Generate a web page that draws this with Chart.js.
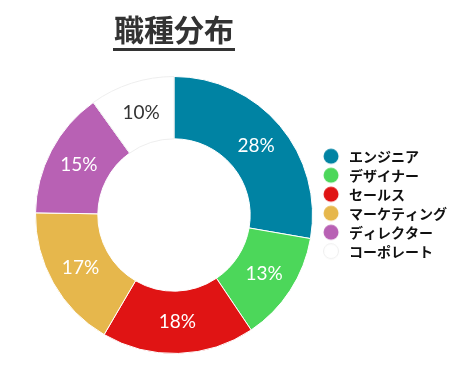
<!DOCTYPE html>
<html>
<head>
<meta charset="utf-8">
<script src="https://cdn.jsdelivr.net/npm/chart.js@4/dist/chart.umd.min.js"></script>
<style>
  html, body { margin: 0; padding: 0; background: #fff; }
  #wrap { width: 457px; height: 367px; }
</style>
</head>
<body>
<div id="wrap"><canvas id="mycanvas" width="457" height="367"></canvas></div>
<script>
var jobs = ['エンジニア', 'デザイナー', 'セールス', 'マーケティング', 'ディレクター', 'コーポレート'];
var shares = [28, 13, 18, 17, 15, 10];
var colors = ['#0083a3', '#4cd75a', '#e01414', '#e6b74c', '#b861b4', '#ffffff'];

// legend dot, drawn toward the right part of a wider box so the text sits further out
function makeDot(color) {
  var c = document.createElement('canvas');
  c.width = 24;
  c.height = 18;
  var g = c.getContext('2d');
  g.beginPath();
  g.arc(13, 9, 7.5, 0, Math.PI * 2);
  g.fillStyle = color;
  g.fill();
  if (color == '#ffffff') {
    g.strokeStyle = '#eeeeee';
    g.lineWidth = 1;
    g.stroke();
  }
  return c;
}

// percent labels in the middle of each slice
var sliceLabels = {
  id: 'sliceLabels',
  afterDatasetsDraw: function(chart) {
    var ctx = chart.ctx;
    var meta = chart.getDatasetMeta(0);
    ctx.save();
    ctx.font = '19px Lato';
    ctx.textAlign = 'center';
    ctx.textBaseline = 'middle';
    meta.data.forEach(function(arc, i) {
      var p = arc.tooltipPosition();
      ctx.fillStyle = colors[i] == '#ffffff' ? '#333' : '#fff';
      ctx.fillText(shares[i] + '%', p.x, p.y);
    });
    ctx.restore();
  }
};

// underline under the title
var titleLine = {
  id: 'titleLine',
  afterDraw: function(chart) {
    var t = chart.titleBlock;
    if (!t) return;
    var ctx = chart.ctx;
    ctx.save();
    ctx.font = 'bold 30px "Noto Sans CJK JP"';
    var w = ctx.measureText(chart.options.plugins.title.text).width;
    var cx = (t.left + t.right) / 2 - 1;
    ctx.fillStyle = '#333';
    ctx.fillRect(cx - w / 2, 48, w + 2, 3);
    ctx.restore();
  }
};

var ctx = document.getElementById('mycanvas');
var pie = new Chart(ctx, {
  type: 'doughnut',
  data: {
    labels: jobs,
    datasets: [{
      data: shares,
      backgroundColor: colors,
      borderColor: ['#fff', '#fff', '#fff', '#fff', '#fff', '#eeeeee'],
      borderWidth: 1
    }]
  },
  options: {
    responsive: false,
    animation: false,
    cutout: '55%',
    layout: { padding: { left: 35, top: 0, bottom: 12, right: 0 } },
    plugins: {
      title: {
        display: true,
        text: '職種分布',
        fullSize: false,
        color: '#333',
        font: { family: '"Noto Sans CJK JP"', size: 30, weight: 'bold' },
        padding: { top: 12, bottom: 27 }
      },
      legend: {
        position: 'right',
        align: 'start',
        title: { display: true, text: ' ', font: { size: 1 }, padding: { top: 143, bottom: 0 } },
        labels: {
          usePointStyle: true,
          pointStyleWidth: 24,
          boxWidth: 14,
          boxHeight: 14,
          padding: 5,
          color: '#111',
          font: { family: '"Noto Sans CJK JP"', size: 14, weight: 'bold' },
          generateLabels: function(chart) {
            var items = Chart.controllers.doughnut.overrides.plugins.legend.labels.generateLabels(chart);
            items.forEach(function(it, i) {
              it.pointStyle = makeDot(colors[i]);
            });
            return items;
          }
        }
      },
      tooltip: { enabled: false }
    }
  },
  plugins: [sliceLabels, titleLine]
});
</script>
</body>
</html>
